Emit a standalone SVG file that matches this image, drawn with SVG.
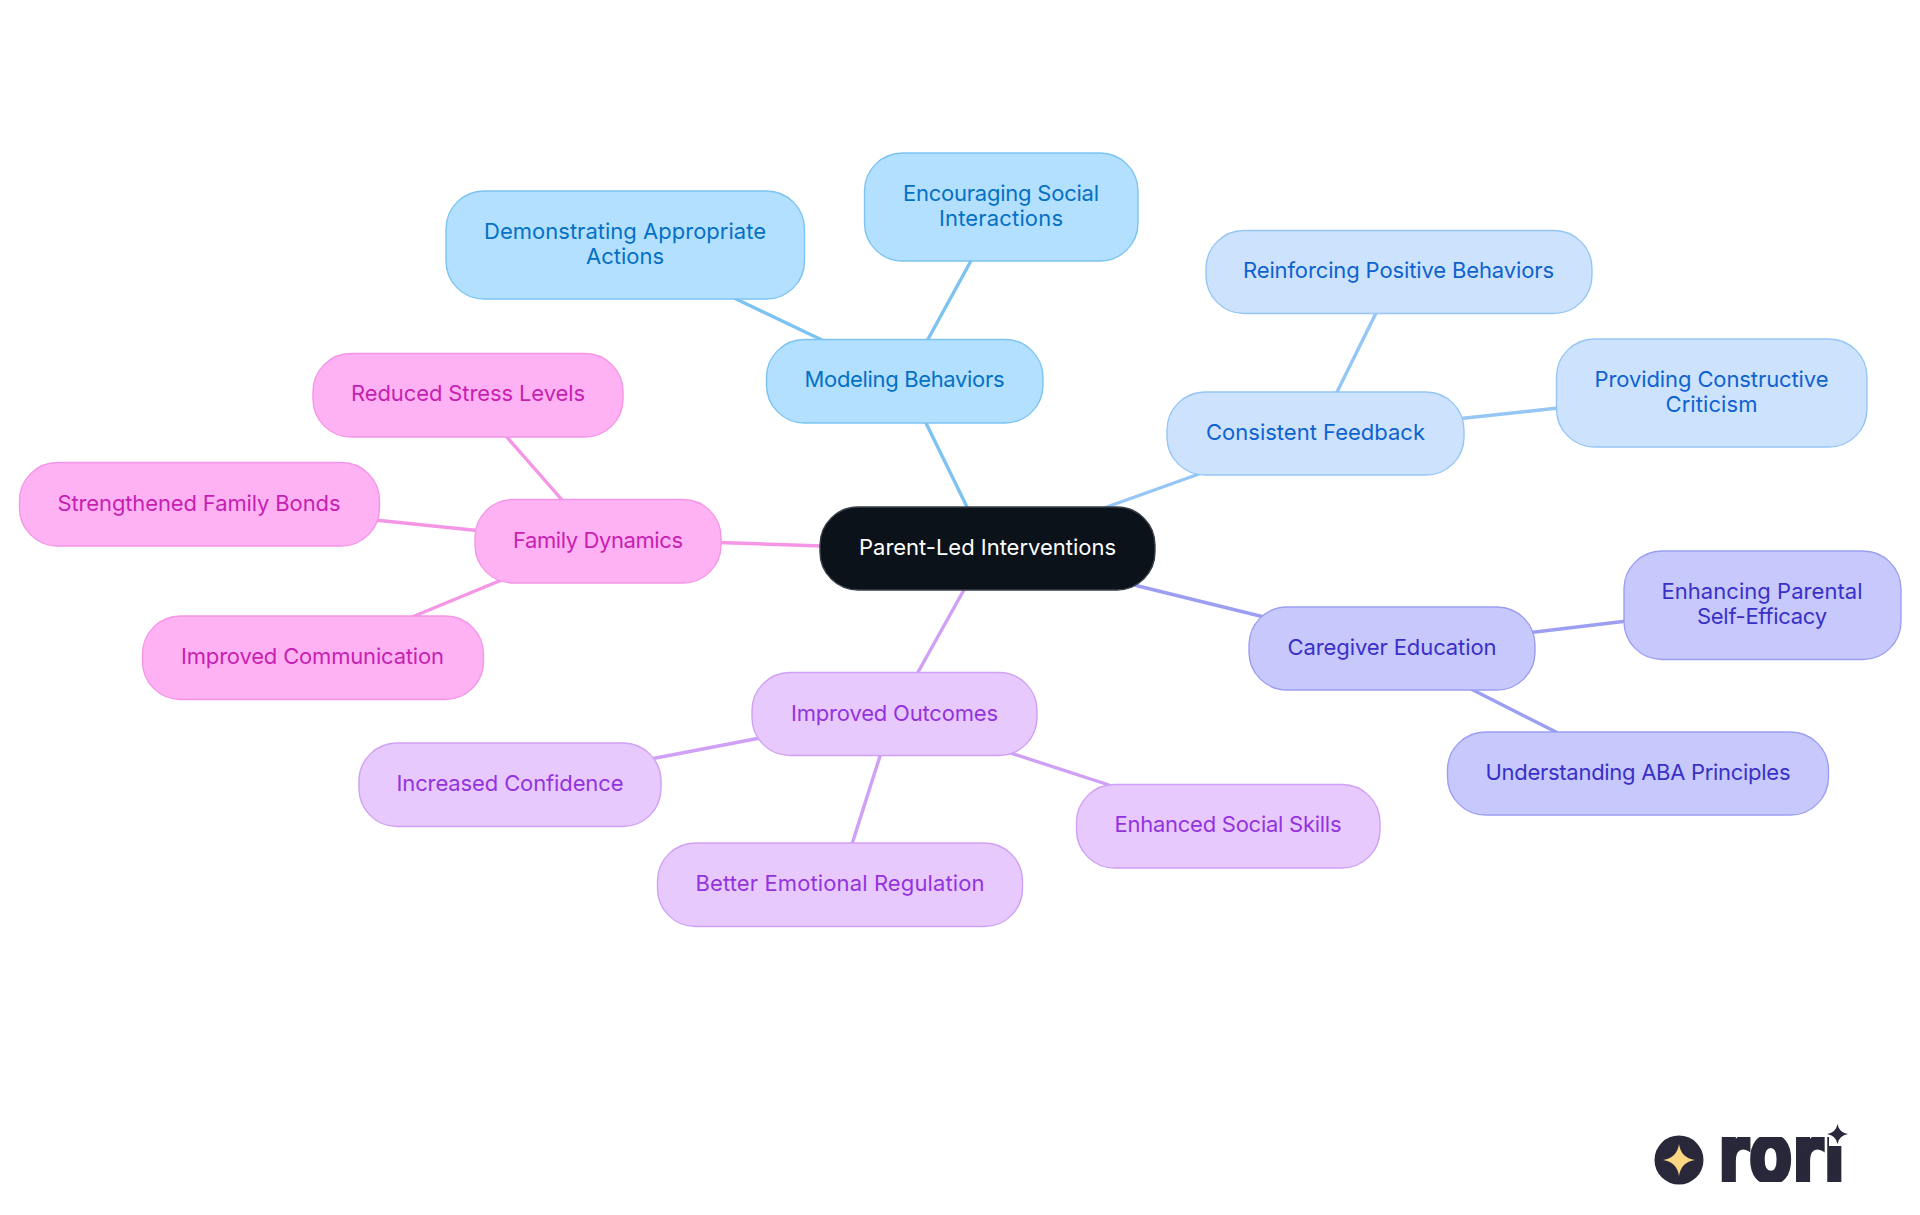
<svg xmlns="http://www.w3.org/2000/svg" width="1920" height="1215" viewBox="0 0 1920 1215">
<style>
text{font-family:"Inter","Noto Sans","Liberation Sans",sans-serif;font-size:22px;text-anchor:middle;font-weight:400}
.n rect{stroke-width:1.4}
#connectors line{stroke-width:3.4;fill:none;stroke-linecap:butt}
.sky rect{fill:#b3e0ff;stroke:#7cc3f2}.sky text{fill:#0570c4}
.sky-l{stroke:#7cc3f2}
.blue rect{fill:#cce2fd;stroke:#96c6f5}.blue text{fill:#0e62d0}
.blue-l{stroke:#96c6f5}
.ind rect{fill:#c7c9fd;stroke:#9c9ef2}.ind text{fill:#3a30c8}
.ind-l{stroke:#9c9ef2}
.pur rect{fill:#e7c9fe;stroke:#cfa0f5}.pur text{fill:#9333dd}
.pur-l{stroke:#cfa0f5}
.pink rect{fill:#feb2f3;stroke:#f595e6}.pink text{fill:#c71fb2}
.pink-l{stroke:#f595e6}
#root rect{fill:#0b121a;stroke:#3a4048}#root text{fill:#fff}
#logo-word{font-family:"DejaVu Sans",sans-serif;font-weight:700;font-size:82px;text-anchor:start;fill:#28283a;stroke:#28283a;stroke-width:4}
</style>
<defs>
<clipPath id="wordclip"><polygon points="1710,1137 1829,1137 1829,1146 1850,1146 1850,1182 1710,1182"/></clipPath>
</defs>
<rect width="1920" height="1215" fill="#fff"/>
<g id="connectors">
<line class="sky-l" x1="924.5" y1="420" x2="968" y2="509"/>
<line class="blue-l" x1="1199" y1="474" x2="1104" y2="508"/>
<line class="ind-l" x1="1130" y1="584" x2="1264" y2="617"/>
<line class="pur-l" x1="965" y1="588" x2="917" y2="674"/>
<line class="pink-l" x1="822" y1="546" x2="719" y2="542.500"/>
<line class="sky-l" x1="927" y1="341" x2="972" y2="259"/>
<line class="sky-l" x1="822" y1="340" x2="734" y2="298"/>
<line class="blue-l" x1="1336" y1="394" x2="1377" y2="311"/>
<line class="blue-l" x1="1461" y1="418.500" x2="1558" y2="408"/>
<line class="ind-l" x1="1531" y1="632.500" x2="1627" y2="621"/>
<line class="ind-l" x1="1471" y1="689" x2="1558" y2="733"/>
<line class="pur-l" x1="760" y1="738" x2="648" y2="759.500"/>
<line class="pur-l" x1="881" y1="753" x2="852" y2="844"/>
<line class="pur-l" x1="1006" y1="751.500" x2="1109" y2="785"/>
<line class="pink-l" x1="563" y1="501" x2="505" y2="435"/>
<line class="pink-l" x1="477" y1="530.500" x2="375" y2="520"/>
<line class="pink-l" x1="504" y1="579" x2="412" y2="617"/>
</g>
<g id="root" class="n"><rect x="820" y="507" width="335" height="83" rx="38"/><text x="987.500" y="555" textLength="257">Parent-Led Interventions</text></g>
<g id="modeling" class="n sky"><rect x="766.500" y="339.500" width="276.500" height="83.500" rx="38"/><text x="904.500" y="387" textLength="200">Modeling Behaviors</text></g>
<g id="encouraging" class="n sky"><rect x="864.500" y="153" width="273.500" height="108" rx="38"/><text x="1001" y="200.500" textLength="196">Encouraging Social</text><text x="1001" y="225.500" textLength="124">Interactions</text></g>
<g id="demonstrating" class="n sky"><rect x="446" y="191" width="358.500" height="108" rx="38"/><text x="625" y="239" textLength="282">Demonstrating Appropriate</text><text x="625" y="264" textLength="78">Actions</text></g>
<g id="consistent" class="n blue"><rect x="1167" y="392" width="297" height="83" rx="38"/><text x="1315.500" y="439.500" textLength="219">Consistent Feedback</text></g>
<g id="reinforcing" class="n blue"><rect x="1206" y="230.500" width="386" height="83" rx="38"/><text x="1398.500" y="278" textLength="311">Reinforcing Positive Behaviors</text></g>
<g id="providing" class="n blue"><rect x="1556.500" y="339" width="310.500" height="108" rx="38"/><text x="1711.500" y="386.500" textLength="234">Providing Constructive</text><text x="1711.500" y="411.500" textLength="92">Criticism</text></g>
<g id="caregiver" class="n ind"><rect x="1249" y="607" width="286" height="83" rx="38"/><text x="1392" y="654.500" textLength="209">Caregiver Education</text></g>
<g id="enhancing" class="n ind"><rect x="1624" y="551" width="277" height="108.500" rx="38"/><text x="1762" y="599" textLength="201">Enhancing Parental</text><text x="1762" y="624" textLength="130">Self-Efficacy</text></g>
<g id="understanding" class="n ind"><rect x="1447.500" y="732" width="381" height="83" rx="38"/><text x="1638" y="780" textLength="305">Understanding ABA Principles</text></g>
<g id="outcomes" class="n pur"><rect x="752" y="672.500" width="285" height="83" rx="38"/><text x="894.500" y="721" textLength="207">Improved Outcomes</text></g>
<g id="emotional" class="n pur"><rect x="657.500" y="843" width="365" height="83.500" rx="38"/><text x="840" y="891" textLength="289">Better Emotional Regulation</text></g>
<g id="social" class="n pur"><rect x="1076.500" y="784.500" width="303.500" height="83.500" rx="38"/><text x="1228" y="832" textLength="227">Enhanced Social Skills</text></g>
<g id="confidence" class="n pur"><rect x="359" y="743" width="302" height="83.500" rx="38"/><text x="510" y="790.500" textLength="227">Increased Confidence</text></g>
<g id="family" class="n pink"><rect x="475" y="499.500" width="246" height="83.500" rx="38"/><text x="598" y="548" textLength="170">Family Dynamics</text></g>
<g id="stress" class="n pink"><rect x="313" y="353.500" width="310" height="83.500" rx="38"/><text x="468" y="401" textLength="234">Reduced Stress Levels</text></g>
<g id="bonds" class="n pink"><rect x="19.500" y="462.500" width="360" height="83.500" rx="38"/><text x="199" y="511" textLength="283">Strengthened Family Bonds</text></g>
<g id="communication" class="n pink"><rect x="142.500" y="616" width="341" height="83.500" rx="38"/><text x="312.500" y="663.500" textLength="263">Improved Communication</text></g>
<g id="logo">
<circle cx="1679" cy="1160" r="24.500" fill="#28283a"/>
<path d="M1679 1144 Q1681 1158 1695 1160 Q1681 1162 1679 1176 Q1677 1162 1663 1160 Q1677 1158 1679 1144Z" fill="#fbd784"/>
<text id="logo-word" x="1718" y="1182" textLength="127" lengthAdjust="spacingAndGlyphs" clip-path="url(#wordclip)">rori</text>
<path d="M1837.500 1124 Q1839 1132.500 1848 1134 Q1839 1135.500 1837.500 1144 Q1836 1135.500 1827 1134 Q1836 1132.500 1837.500 1124Z" fill="#28283a"/>
</g>
</svg>
